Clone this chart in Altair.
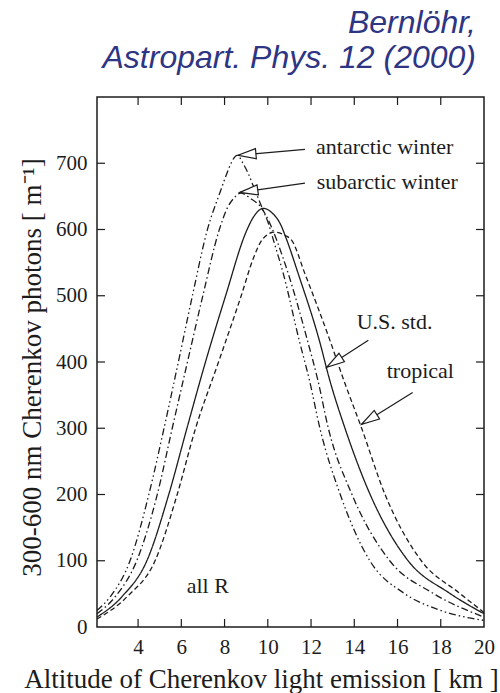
import altair as alt
import pandas as pd

# ---------------- data ----------------
series_names = ["antarctic winter", "subarctic winter", "U.S. std.", "tropical"]

aw_x = [2.1, 2.72, 3.64, 4.49, 5.2, 5.85, 6.5, 7.2, 7.8, 8.1, 8.3, 8.58, 8.85, 9.1, 9.41, 9.72, 10.03, 10.26, 10.72, 11.45, 11.93, 12.41, 13.34, 14.72, 16.3, 17.9, 20.0]
aw_y = [25, 46, 101, 199, 300, 398, 498, 599, 657, 684, 700, 712, 700, 684, 659, 634, 609, 584, 533, 433, 372, 300, 201, 100, 51, 26, 10]

sw_x = [2.1, 2.95, 3.95, 4.88, 5.58, 6.27, 6.98, 7.75, 8.15, 8.45, 8.75, 9.2, 9.72, 10.18, 10.41, 10.95, 11.83, 12.32, 12.8, 13.88, 15.64, 17.64, 20.0]
sw_y = [20, 46, 101, 199, 300, 398, 498, 599, 634, 648, 655, 647, 632, 603, 584, 533, 433, 372, 300, 201, 100, 51, 15]

us_x = [2.1, 3.26, 4.42, 5.41, 6.26, 7.1, 8.03, 9.03, 9.34, 9.8, 10.2, 10.57, 10.88, 11.41, 12.38, 12.87, 13.57, 14.72, 16.49, 18.41, 20.0]
us_y = [15, 46, 101, 199, 300, 398, 498, 599, 619, 632, 625, 609, 584, 533, 433, 372, 300, 201, 100, 51, 20]

tr_x = [2.1, 3.5, 4.8, 5.8, 6.66, 7.7, 8.75, 9.35, 9.75, 10.3, 10.8, 11.1, 11.72, 12.87, 13.52, 14.34, 15.41, 17.1, 18.87, 20.0]
tr_y = [12, 46, 101, 199, 300, 398, 498, 558, 585, 596, 591, 584, 533, 433, 372, 300, 201, 100, 51, 22]

x_label_values = [4, 6, 8, 10, 12, 14, 16, 18, 20]
y_label_values = [0, 100, 200, 300, 400, 500, 600, 700]
x_tick_values = [4, 6, 8, 10, 12, 14, 16, 18]
y_tick_values = [100, 200, 300, 400, 500, 600, 700]

# arrows: tail -> tip (tip touches the curve)
arrow_tail_x = [11.72, 11.72, 14.65, 16.7]
arrow_tail_y = [721, 670, 433, 354]
arrow_tip_x = [8.62, 8.71, 12.72, 14.34]
arrow_tip_y = [712, 656, 392, 306]
arrow_angle = [355, 352, 327, 328]

label_text = ["antarctic winter", "subarctic winter", "U.S. std.", "tropical", "all R"]
label_x = [12.23, 12.26, 14.11, 15.5, 6.25]
label_y = [714, 661, 450, 376, 51]

title_lines = ["Bernlöhr,", "Astropart. Phys. 12 (2000)"]

# ---------------- tables ----------------
rows = []
for name, xs, ys in zip(series_names, [aw_x, sw_x, us_x, tr_x], [aw_y, sw_y, us_y, tr_y]):
    for i, (a, b) in enumerate(zip(xs, ys)):
        rows.append({"series": name, "alt": a, "photons": b, "order": i})
df = pd.DataFrame(rows)

arrows = pd.DataFrame({"alt": arrow_tail_x, "photons": arrow_tail_y,
                       "alt2": arrow_tip_x, "photons2": arrow_tip_y, "ang": arrow_angle})
labels = pd.DataFrame({"text": label_text, "alt": label_x, "photons": label_y})
xt = pd.DataFrame({"alt": x_tick_values})
yt = pd.DataFrame({"photons": y_tick_values})

W, H = 387, 530
INK = "#1c1c1c"
SERIF = "Liberation Serif"
xscale = alt.Scale(domain=[2.1, 20], nice=False, zero=False)
yscale = alt.Scale(domain=[0, 800], nice=False)

x_axis = alt.Axis(values=x_label_values, ticks=False, tickSize=0, domain=False, grid=False,
                  labelFont=SERIF, labelFontSize=21, labelColor=INK, labelBaseline="alphabetic",
                  labelPadding=26, labelFlush=False, labelOverlap=False,
                  title="Altitude of Cherenkov light emission  [ km ]",
                  titleFont=SERIF, titleFontSize=27, titleFontWeight="normal", titleColor=INK,
                  titleX=164, titleY=60, titleBaseline="alphabetic", titleAlign="center")
y_axis = alt.Axis(values=y_label_values, ticks=False, tickSize=0, domain=False, grid=False,
                  labelFont=SERIF, labelFontSize=21, labelColor=INK, labelPadding=10,
                  labelFlush=False, labelOverlap=False,
                  title="300-600 nm Cherenkov photons [ m⁻¹]",
                  titleFont=SERIF, titleFontSize=27, titleFontWeight="normal", titleColor=INK,
                  titleAngle=270, titleX=-57, titleY=270, titleBaseline="alphabetic", titleAlign="center")

curves = alt.Chart(df).mark_line(interpolate="monotone", strokeWidth=1.3, color=INK).encode(
    x=alt.X("alt:Q", scale=xscale, axis=x_axis),
    y=alt.Y("photons:Q", scale=yscale, axis=y_axis),
    strokeDash=alt.StrokeDash("series:N", legend=None,
                              scale=alt.Scale(domain=series_names,
                                              range=[[7, 3, 1.5, 3, 1.5, 3], [7, 3, 1.5, 3], [1, 0], [5, 3]])),
    detail="series:N",
    order="order:Q",
)

tick_style = dict(color=INK, strokeWidth=1.2)
bottom_ticks = alt.Chart(xt).mark_rule(**tick_style).encode(
    x=alt.X("alt:Q", scale=xscale), y=alt.value(H), y2=alt.value(H - 8))
top_ticks = alt.Chart(xt).mark_rule(**tick_style).encode(
    x=alt.X("alt:Q", scale=xscale), y=alt.value(0), y2=alt.value(8))
left_ticks = alt.Chart(yt).mark_rule(**tick_style).encode(
    y=alt.Y("photons:Q", scale=yscale), x=alt.value(0), x2=alt.value(8))
right_ticks = alt.Chart(yt).mark_rule(**tick_style).encode(
    y=alt.Y("photons:Q", scale=yscale), x=alt.value(W), x2=alt.value(W - 8))

arrow_lines = alt.Chart(arrows).mark_rule(color=INK, strokeWidth=1.2).encode(
    x=alt.X("alt:Q", scale=xscale), x2="alt2:Q",
    y=alt.Y("photons:Q", scale=yscale), y2="photons2:Q")
arrow_heads = alt.Chart(arrows).mark_point(
    shape="M 0 0 L 1 -0.28 L 1 0.28 Z", size=1296, filled=True, fill="white",
    stroke=INK, strokeWidth=1.2, opacity=1).encode(
    x=alt.X("alt2:Q", scale=xscale), y=alt.Y("photons2:Q", scale=yscale),
    angle=alt.Angle("ang:Q", scale=None))

label_marks = alt.Chart(labels).mark_text(align="left", baseline="alphabetic", font=SERIF,
                                          fontSize=22, color=INK).encode(
    x=alt.X("alt:Q", scale=xscale), y=alt.Y("photons:Q", scale=yscale), text="text:N")

title1 = alt.Chart(pd.DataFrame({"t": [title_lines[0]]})).mark_text(
    align="right", baseline="alphabetic", font="Liberation Sans", fontStyle="italic",
    fontSize=32, color="#2e3583").encode(x=alt.value(379), y=alt.value(-64), text="t:N")
title2 = alt.Chart(pd.DataFrame({"t": [title_lines[1]]})).mark_text(
    align="right", baseline="alphabetic", font="Liberation Sans", fontStyle="italic",
    fontSize=32, color="#2e3583").encode(x=alt.value(379), y=alt.value(-29), text="t:N")

chart = alt.layer(
    curves, bottom_ticks, top_ticks, left_ticks, right_ticks,
    arrow_lines, arrow_heads, label_marks, title1, title2
).properties(
    width=W, height=H,
    autosize=alt.AutoSizeParams(type="none"),
    padding={"left": 97, "top": 97, "right": 16, "bottom": 66},
    background="white",
).configure_view(stroke=INK, strokeWidth=1.5)

chart.save("out.html", embed_options={"renderer": "svg", "actions": False})
